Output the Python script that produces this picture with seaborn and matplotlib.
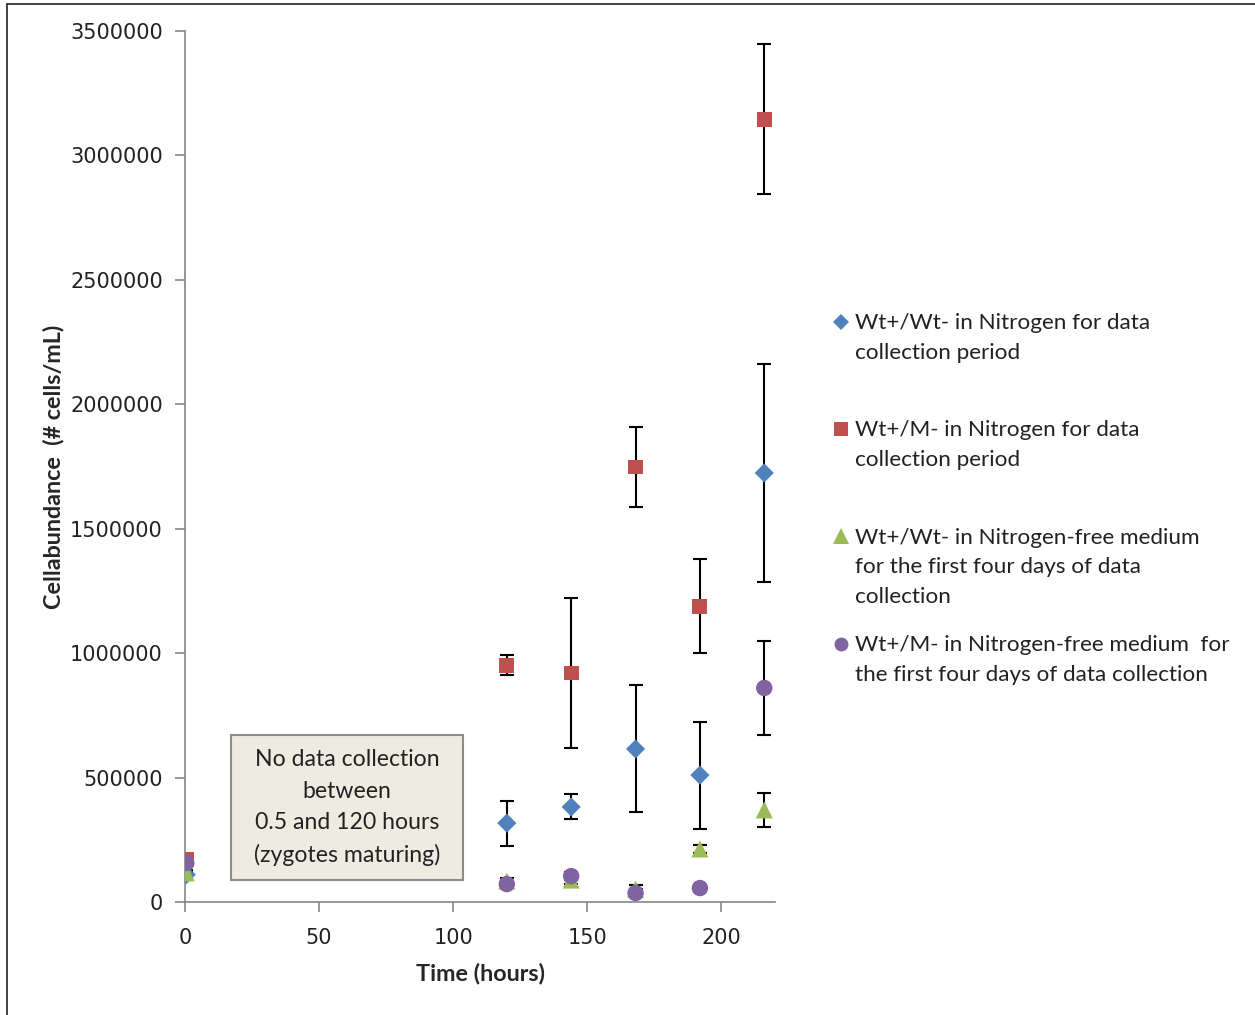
import numpy as np
import pandas as pd
import matplotlib
matplotlib.use("Agg")
import matplotlib.pyplot as plt
import seaborn as sns
from matplotlib.lines import Line2D
from matplotlib.path import Path
from matplotlib.legend_handler import HandlerLine2D

# ---- data ----
times = [0.5, 120, 144, 168, 192, 216]
series_names = [
    "Wt+/Wt- in Nitrogen for data\ncollection period",
    "Wt+/M- in Nitrogen for data\ncollection period",
    "Wt+/Wt- in Nitrogen-free medium\nfor the first four days of data\ncollection",
    "Wt+/M- in Nitrogen-free medium  for\nthe first four days of data collection",
]
wt_wt_n = [110000, 317000, 382000, 615000, 510000, 1724000]
wt_wt_n_err = [10000, 90000, 50000, 255000, 215000, 438000]
wt_m_n = [169000, 952000, 920000, 1748000, 1189000, 3146000]
wt_m_n_err = [10000, 40000, 300000, 160000, 190000, 300000]
wt_wt_nf = [117000, 84000, 88000, 52000, 213000, 370000]
wt_wt_nf_err = [10000, 12000, 15000, 15000, 18000, 70000]
wt_m_nf = [157000, 72000, 104000, 36000, 56000, 860000]
wt_m_nf_err = [10000, 10000, 15000, 15000, 12000, 190000]

values = [wt_wt_n, wt_m_n, wt_wt_nf, wt_m_nf]
errors = [wt_wt_n_err, wt_m_n_err, wt_wt_nf_err, wt_m_nf_err]
colors = ["#4F81BD", "#C0504D", "#9BBB59", "#8064A2"]
markers = ["D", "s", "^", "o"]
sizes = [95, 115, 150, 140]

rows = []
for name, vals, errs in zip(series_names, values, errors):
    for t, v, e in zip(times, vals, errs):
        rows.append({"time": t, "value": v, "err": e, "series": name})
df = pd.DataFrame(rows)

# ---- styling ----
sns.set_theme(style="white")
plt.rcParams["font.family"] = ["Lato", "DejaVu Sans"]

fig = plt.figure(figsize=(12.55, 10.15), dpi=100)
ax = fig.add_axes([185 / 1255, 113 / 1015, 590 / 1255, 871 / 1015])

# error bars (behind markers)
for name, c in zip(series_names, colors):
    sub = df[df["series"] == name]
    ax.errorbar(sub["time"], sub["value"], yerr=sub["err"], fmt="none",
                ecolor="black", elinewidth=1.5, capsize=5, capthick=1.5, zorder=2)

for name, c, m, s in zip(series_names, colors, markers, sizes):
    sub = df[df["series"] == name]
    sns.scatterplot(data=sub, x="time", y="value", color=c, marker=m, s=s,
                    edgecolor="none", linewidth=0, ax=ax, zorder=3, legend=False)

ax.set_xlim(0, 220)
ax.set_ylim(0, 3500000)
ax.set_xticks([0, 50, 100, 150, 200])
ax.set_yticks(np.arange(0, 3500001, 500000))
ax.set_yticklabels([f"{int(v)}" for v in np.arange(0, 3500001, 500000)])

for sp in ["top", "right"]:
    ax.spines[sp].set_visible(False)
for sp in ["left", "bottom"]:
    ax.spines[sp].set_color("#868686")
    ax.spines[sp].set_linewidth(1.2)
ax.tick_params(axis="both", which="major", direction="out", length=7, width=1.2,
               color="#868686", labelsize=15, left=True, bottom=True)
ax.tick_params(axis="y", pad=9)
ax.tick_params(axis="x", pad=11.5)
for lab in ax.get_xticklabels() + ax.get_yticklabels():
    lab.set_fontfamily("DejaVu Sans")
    lab.set_color("#222222")

ax.set_xlabel("Time (hours)", fontsize=16.8, fontweight="bold", labelpad=11)
ax.set_ylabel("Cellabundance  (# cells/mL)", fontsize=16.8, fontweight="bold", labelpad=4)


# annotation box with wider horizontal padding
def wide_box(x0, y0, width, height, mutation_size):
    px = 1.0 * mutation_size
    py = 0.6 * mutation_size
    x0, y0 = x0 - px, y0 - py
    x1, y1 = x0 + width + 2 * px, y0 + height + 2 * py
    return Path([(x0, y0), (x1, y0), (x1, y1), (x0, y1), (x0, y0)], closed=True)


ax.text(60.5, 379000,
        "No data collection\nbetween\n0.5 and 120 hours\n(zygotes maturing)",
        ha="center", va="center", fontsize=16.6, linespacing=1.62, color="#222222",
        bbox=dict(boxstyle=wide_box, fc="#EEECE1", ec="#8C8C8C", lw=1.5),
        zorder=4)


# legend with markers aligned to the first text line
LINE_STEP_PT = 31 * 72 / 100


class TopHandler(HandlerLine2D):
    def __init__(self, nlines, **kw):
        super().__init__(**kw)
        self.nlines = nlines

    def create_artists(self, legend, orig_handle, xdescent, ydescent, width,
                       height, fontsize, trans):
        arts = super().create_artists(legend, orig_handle, xdescent, ydescent,
                                      width, height, fontsize, trans)
        off = (self.nlines - 1) / 2 * LINE_STEP_PT
        for a in arts:
            a.set_ydata(np.asarray(a.get_ydata(), dtype=float) + off)
        return arts


leg_fs = 16.2
leg_labels = []
for i, name in enumerate(series_names):
    n = name.count("\n") + 1
    if i < len(series_names) - 1:
        name = name + "\n " * (3 - n)
    leg_labels.append(name)

handles = []
hmap = {}
leg_msize = {"D": 8, "s": 10, "^": 11, "o": 10}
for lab, c, m in zip(leg_labels, colors, markers):
    h = Line2D([], [], ls="none", marker=m, color=c, markersize=leg_msize[m],
               markeredgewidth=0)
    handles.append(h)
    hmap[h] = TopHandler(lab.count("\n") + 1, numpoints=1)

leg = ax.legend(handles, leg_labels, handler_map=hmap, loc="upper left",
                bbox_to_anchor=(834 / 1255, 1 - 313 / 1015), bbox_transform=fig.transFigure,
                frameon=False, fontsize=leg_fs, handlelength=0.6, handletextpad=0.35,
                labelspacing=1.25, borderpad=0, borderaxespad=0)
for t in leg.get_texts():
    t.set_linespacing(1.6)
    t.set_color("#222222")

# figure border (left & top visible)
fig.add_artist(Line2D([7 / 1255, 7 / 1255], [0, 1 - 4 / 1015], transform=fig.transFigure,
                      color="#333333", lw=1.3))
fig.add_artist(Line2D([7 / 1255, 1], [1 - 4 / 1015, 1 - 4 / 1015], transform=fig.transFigure,
                      color="#333333", lw=1.3))

fig.savefig("out.png", dpi=100)
